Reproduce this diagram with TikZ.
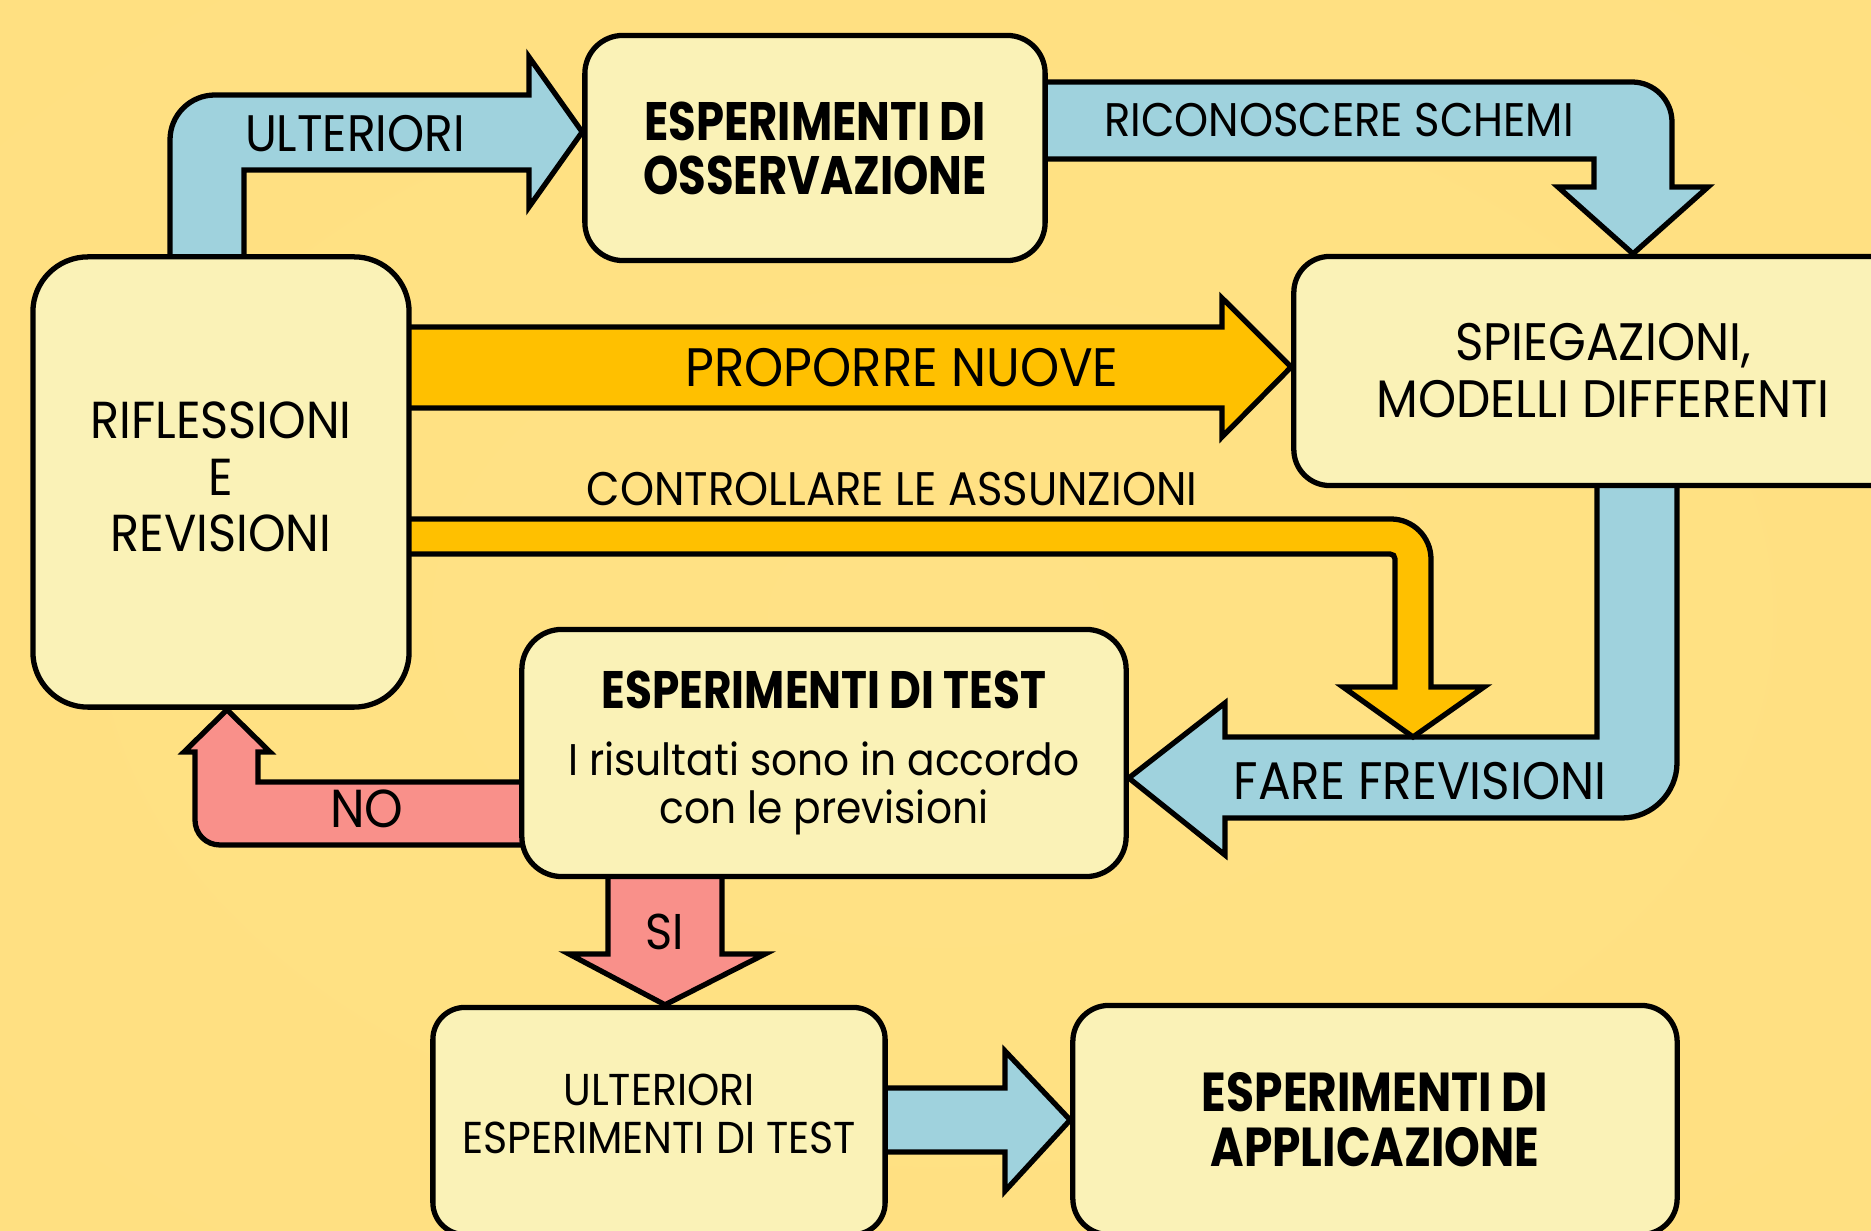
\documentclass[tikz,border=0pt]{standalone}
\usepackage{fontspec}
\setmainfont{Poppins}[FakeStretch=0.92, BoldFeatures={FakeStretch=0.83}]
\usepackage{xcolor}
\usetikzlibrary{calc}

\definecolor{bgyellow}{RGB}{255,224,128}
\definecolor{bglight}{RGB}{255,225,133}
\definecolor{bgcorner}{RGB}{255,214,98}
\definecolor{boxfill}{RGB}{250,242,183}
\definecolor{arrowblue}{RGB}{159,210,221}
\definecolor{arroworange}{RGB}{255,192,0}
\definecolor{arrowpink}{RGB}{249,144,138}

\pgfdeclareradialshading{vignette}{\pgfpoint{0bp}{0bp}}{color(0bp)=(bglight); color(45bp)=(bgyellow); color(71bp)=(bgcorner)}

\pgfdeclarelayer{back}
\pgfdeclarelayer{arrows}
\pgfsetlayers{back,arrows,main}

\begin{document}
\begin{tikzpicture}[x=0.01cm, y=-0.01cm,
        box/.style={draw, line width=1.5pt, fill=boxfill, rounded corners=0.38cm, align=center, inner sep=0pt},
        fat/.style={draw, line width=1.5pt, line join=miter},
        lbl/.style={inner sep=0pt}
    ]
    \useasboundingbox (0,0) rectangle (1871,1231);
    \begin{pgfonlayer}{back}
        \shade[shading=vignette] (0,0) rectangle (1871,1231);
    \end{pgfonlayer}

    % boxes
    \node[box, minimum width=4.6cm, minimum height=2.25cm, font=\fontsize{15.4}{15.4}\selectfont\bfseries] (obs) at (815,148) {ESPERIMENTI DI\\OSSERVAZIONE};
    \node[box, rounded corners=0.55cm, minimum width=3.76cm, minimum height=4.5cm, text depth=3pt, font=\fontsize{14.8}{16.1}\selectfont] (rifl) at (221,482) {RIFLESSIONI\\E\\REVISIONI};
    \node[box, rounded corners=0.36cm, minimum width=6.18cm, minimum height=2.29cm, font=\fontsize{15}{16.2}\selectfont] (spieg) at (1603,371) {SPIEGAZIONI,\\MODELLI DIFFERENTI};
    \node[box, rounded corners=0.4cm, minimum width=6.04cm, minimum height=2.47cm, font=\fontsize{12.6}{13.7}\selectfont] (test) at (824,753) {{\fontsize{15}{13.7}\selectfont\bfseries ESPERIMENTI DI TEST}\\[5.4pt]I risultati sono in accordo\\con le previsioni};
    \node[box, rounded corners=0.32cm, minimum width=4.52cm, minimum height=2.27cm, text depth=4pt, font=\fontsize{12.7}{13.7}\selectfont] (ultest) at (659,1121) {ULTERIORI\\ESPERIMENTI DI TEST};
    \node[box, rounded corners=0.36cm, minimum width=6.04cm, minimum height=2.29cm, font=\fontsize{15.6}{15.6}\selectfont\bfseries] (appl) at (1375,1120) {ESPERIMENTI DI\\APPLICAZIONE};

    % block arrows
    \begin{pgfonlayer}{arrows}
        \draw[fat, fill=arrowblue] (170,300) -- (170,140) .. controls (170,115) and (190,95) .. (215,95) -- (529,95) -- (529,57) -- (obs.west |- 0,132) -- (529,207) -- (529,170) -- (244,170) -- (244,300) -- cycle;
        \node[lbl, font=\fontsize{14.6}{14.6}\selectfont] (ulteriori) at (355,134) {ULTERIORI};

        \draw[fat, fill=arrowblue] (1000,82) -- (1632,82) .. controls (1654,82) and (1672,100) .. (1672,122) -- (1672,187) -- (1708,187) -- (spieg.north -| 1633,0) -- (1558,187) -- (1594,187) -- (1594,159) -- (1000,159) -- cycle;
        \node[lbl, font=\fontsize{13.4}{13.4}\selectfont] (schemi) at (1339,120) {RICONOSCERE SCHEMI};

        \draw[fat, fill=arroworange] (380,327) -- (1222,327) -- (1222,298) -- (spieg.west |- 0,367) -- (1222,437) -- (1222,408) -- (380,408) -- cycle;
        \node[lbl, font=\fontsize{15.4}{15.4}\selectfont] (proporre) at (902,368) {PROPORRE NUOVE};

        \draw[fat, fill=arrowblue] (1597,440) -- (1677,440) -- (1677,763) .. controls (1677,793) and (1652,818) .. (1622,818) -- (1225,818) -- (1225,855) -- (test.east |- 0,778) -- (1225,703) -- (1225,737) -- (1597,737) -- cycle;
        \node[lbl, font=\fontsize{15}{15}\selectfont] (fare) at (1420,781) {FARE FREVISIONI};

        \draw[fat, fill=arroworange] (380,519) -- (1391,519) .. controls (1413,519) and (1431,537) .. (1431,559) -- (1431,687) -- (1484,687) -- (1413,737) -- (1343,687) -- (1395,687) -- (1395,559) .. controls (1395,556) and (1393,554) .. (1390,554) -- (380,554) -- cycle;
        \node[lbl, font=\fontsize{13.4}{13.4}\selectfont] (controllare) at (892,489) {CONTROLLARE LE ASSUNZIONI};

        \draw[fat, fill=arrowpink] (560,782) -- (258,782) -- (258,752) -- (270,752) -- (rifl.south -| 227,0) -- (184,752) -- (195,752) -- (195,820) .. controls (195,834) and (206,845) .. (220,845) -- (560,845) -- cycle;
        \node[lbl, font=\fontsize{15.2}{15.2}\selectfont] (no) at (367,809) {NO};

        \draw[fat, fill=arrowpink] (608,840) -- (722,840) -- (722,954) -- (765,954) -- (ultest.north -| 665,0) -- (569,954) -- (608,954) -- cycle;
        \node[lbl, font=\fontsize{14.3}{14.3}\selectfont] (si) at (665,932) {SI};

        \draw[fat, fill=arrowblue] (850,1088) -- (1005,1088) -- (1005,1051) -- (appl.west |- 0,1120) -- (1005,1191) -- (1005,1152) -- (850,1152) -- cycle;
    \end{pgfonlayer}
\end{tikzpicture}
\end{document}
